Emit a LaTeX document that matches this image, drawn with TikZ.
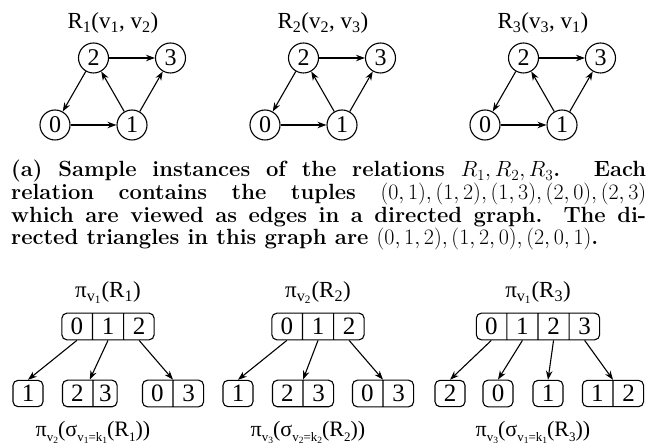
\RequirePackage{fix-cm}
\documentclass[tikz,border=0pt]{standalone}
\usepackage{fontspec}
\newfontfamily\tnr{Liberation Serif}
\usetikzlibrary{arrows.meta,shapes.multipart}
\newcommand\bsub[1]{\raisebox{-4.5pt}{\fontsize{13}{13}\selectfont #1}}
\newcommand\bssub[1]{\raisebox{-2.5pt}{\fontsize{9.5}{9.5}\selectfont #1}}
\begin{document}
\begin{tikzpicture}[x=1pt,y=-1pt,
  every node/.style={font=\tnr\fontsize{23}{27}\selectfont},
  vert/.style={circle,draw,line width=1.1pt,minimum size=30pt,inner sep=0pt,font=\tnr\fontsize{24}{28}\selectfont},
  arr/.style={line width=1.1pt,-{Stealth[length=9pt,width=6.5pt]}},
  cellbox/.style={draw,line width=1.1pt,rounded corners=5pt,rectangle split,rectangle split horizontal,inner xsep=8.75pt,inner ysep=4.9pt,font=\tnr\fontsize{25}{29}\selectfont},
  single/.style={draw,line width=1.1pt,rounded corners=5pt,inner xsep=8.75pt,inner ysep=4.9pt,font=\tnr\fontsize{25}{29}\selectfont},
  lbl/.style={anchor=base,inner sep=0pt},
  blbl/.style={anchor=base,inner sep=0pt,font=\tnr\fontsize{22}{26}\selectfont},
  captext/.style={anchor=base west,inner sep=0pt,font=\normalfont\bfseries\fontsize{22}{22.7}\selectfont}
]
\useasboundingbox (0,0) rectangle (654,443);

% ---------- graphs ----------
\foreach \g/\dx in {1/0,2/210,3/430}{
  \node[vert] (a\g) at (55+\dx,125) {0};
  \node[vert] (b\g) at (132+\dx,125) {1};
  \node[vert] (c\g) at (93.5+\dx,58) {2};
  \node[vert] (d\g) at (170.5+\dx,58) {3};
  \draw[arr] (a\g) -- (b\g);
  \draw[arr] (b\g) -- (c\g);
  \draw[arr] (b\g) -- (d\g);
  \draw[arr] (c\g) -- (a\g);
  \draw[arr] (c\g) -- (d\g);
}
\node[lbl] (t1) at (113,29) {R\textsubscript{1}(v\textsubscript{1}, v\textsubscript{2})};
\node[lbl] (t2) at (323,29) {R\textsubscript{2}(v\textsubscript{2}, v\textsubscript{3})};
\node[lbl] (t3) at (543,29) {R\textsubscript{3}(v\textsubscript{3}, v\textsubscript{1})};

% ---------- caption ----------
\node[captext] (l1) at (11,177) {\makebox[635pt][s]{(a) Sample instances of the relations $R_1, R_2, R_3$. Each}};
\node[captext] (l2) at (11,199.7) {\makebox[635pt][s]{relation contains the tuples $(0,1),(1,2),(1,3),(2,0),(2,3)$}};
\node[captext] (l3) at (11,222.4) {\makebox[635pt][s]{which are viewed as edges in a directed graph. The di-}};
\node[captext] (l4) at (11,245) {rected triangles in this graph are $(0,1,2),(1,2,0),(2,0,1)$.};

% ---------- tries ----------
% left
\node[lbl] (pl1) at (108,298) {π\textsubscript{v\textsubscript{1}}(R\textsubscript{1})};
\node[cellbox,rectangle split parts=3] (p1) at (108,326.5) {0\nodepart{two}1\nodepart{three}2};
\node[single] (k11) at (28,393.5) {1};
\node[cellbox,rectangle split parts=2] (k12) at (89.75,393.5) {2\nodepart{two}\makebox[6pt]{3}};
\node[cellbox,rectangle split parts=2] (k13) at (173,393.5) {0\nodepart{two}3};
\draw[arr] (p1.one south) -- (k11.north);
\draw[arr] (p1.two south) -- (k12.north);
\draw[arr] (p1.three south) -- (k13.north);
\node[blbl] (bl1) at (93,437) {π\bsub{v\bssub{2}}(σ\bsub{v\bssub{1}=k\bssub{1}}(R\bsub{1}))};

% middle
\node[lbl] (pl2) at (318,298) {π\textsubscript{v\textsubscript{2}}(R\textsubscript{2})};
\node[cellbox,rectangle split parts=3] (p2) at (318,326.5) {0\nodepart{two}1\nodepart{three}2};
\node[single] (k21) at (238,393.5) {1};
\node[cellbox,rectangle split parts=2] (k22) at (303,393.5) {2\nodepart{two}3};
\node[cellbox,rectangle split parts=2] (k23) at (383,393.5) {0\nodepart{two}3};
\draw[arr] (p2.one south) -- (k21.north);
\draw[arr] (p2.two south) -- (k22.north);
\draw[arr] (p2.three south) -- (k23.north);
\node[blbl] (bl2) at (308,437) {π\bsub{v\bssub{3}}(σ\bsub{v\bssub{2}=k\bssub{2}}(R\bsub{2}))};

% right
\node[lbl] (pl3) at (538,298) {π\textsubscript{v\textsubscript{1}}(R\textsubscript{3})};
\node[cellbox,rectangle split parts=4] (p3) at (538,326.5) {0\nodepart{two}1\nodepart{three}2\nodepart{four}3};
\node[single] (k31) at (450,393.5) {2};
\node[single] (k32) at (498,393.5) {0};
\node[single] (k33) at (548,393.5) {1};
\node[cellbox,rectangle split parts=2] (k34) at (613,393.5) {1\nodepart{two}2};
\draw[arr] (p3.one south) -- (k31.north);
\draw[arr] (p3.two south) -- (k32.north);
\draw[arr] (p3.three south) -- (k33.north);
\draw[arr] (p3.four south) -- (k34.north);
\node[blbl] (bl3) at (533,437) {π\bsub{v\bssub{3}}(σ\bsub{v\bssub{1}=k\bssub{1}}(R\bsub{3}))};
\end{tikzpicture}
\end{document}
